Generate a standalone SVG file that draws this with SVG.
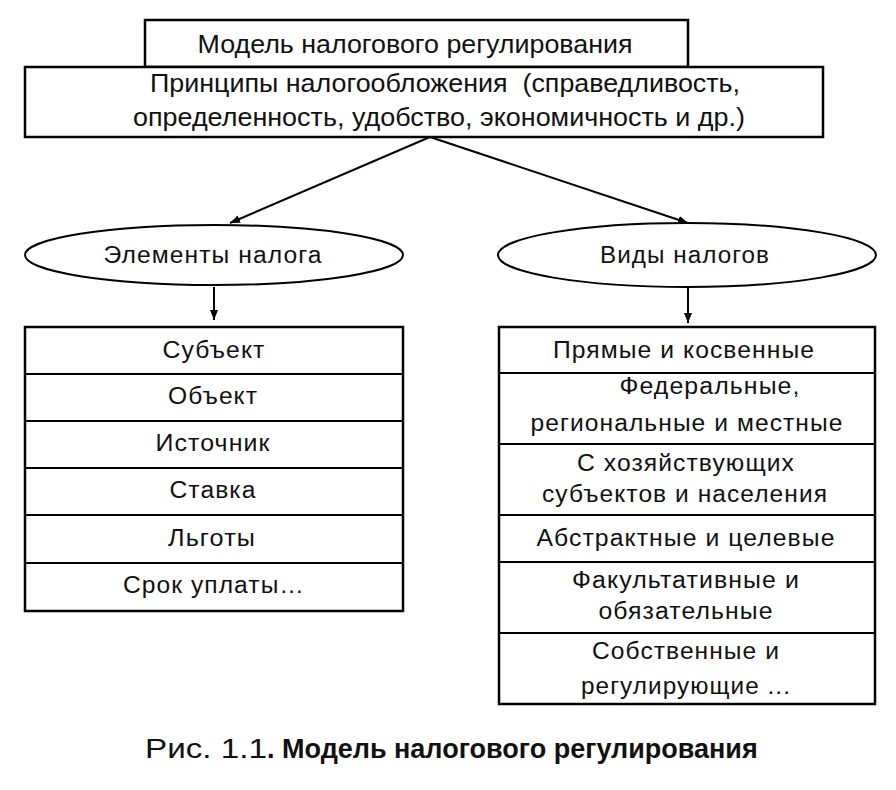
<svg xmlns="http://www.w3.org/2000/svg" width="896" height="790" viewBox="0 0 896 790">
<defs>
<style>
.box{fill:#fff;stroke:#000;stroke-width:2.5}
.ln{stroke:#000;stroke-width:2;fill:none}
.n{font-family:"Liberation Sans",Arial,sans-serif;font-size:25px;fill:#111;text-anchor:middle}
.t{font-family:"Liberation Sans",Arial,sans-serif;font-size:23px;fill:#111;text-anchor:middle;letter-spacing:1px}
.cap{font-family:"Liberation Sans",Arial,sans-serif;font-size:27px;fill:#111}
</style>
<marker id="ah2" viewBox="0 0 10 10" refX="10" refY="5" markerWidth="10" markerHeight="10" orient="auto" markerUnits="userSpaceOnUse">
<path d="M0,1 L10,5 L0,9 Z" fill="#000"/>
</marker>
</defs>
<rect width="896" height="790" fill="#fff"/>

<g id="model">
<rect class="box" x="145" y="20" width="543" height="47"/>
<text class="n" x="415" y="53" textLength="435" lengthAdjust="spacingAndGlyphs">Модель налогового регулирования</text>
</g>
<g id="principles">
<rect class="box" x="25" y="67" width="798" height="70"/>
<text class="n" x="445" y="92" textLength="590" lengthAdjust="spacingAndGlyphs" xml:space="preserve">Принципы налогообложения  (справедливость,</text>
<text class="n" x="439" y="126" textLength="612" lengthAdjust="spacingAndGlyphs">определенность, удобство, экономичность и др.)</text>
</g>

<g id="connectors">
<line class="ln" x1="430" y1="137" x2="230" y2="223" marker-end="url(#ah2)"/>
<line class="ln" x1="430" y1="137" x2="688" y2="223" marker-end="url(#ah2)"/>
<line class="ln" x1="214" y1="287" x2="214" y2="320" marker-end="url(#ah2)"/>
<line class="ln" x1="688" y1="288" x2="688" y2="323" marker-end="url(#ah2)"/>
</g>

<g id="elements">
<ellipse class="box" cx="214" cy="255" rx="189" ry="30" style="stroke-width:2"/>
<text class="t" x="213" y="263" textLength="219" lengthAdjust="spacingAndGlyphs">Элементы налога</text>
</g>
<g id="types">
<ellipse class="box" cx="687" cy="255" rx="189" ry="32" style="stroke-width:2"/>
<text class="t" x="685" y="263" textLength="170" lengthAdjust="spacingAndGlyphs">Виды налогов</text>
</g>

<g id="elements-list">
<rect class="box" x="25" y="327" width="378" height="284"/>
<line class="ln" x1="25" y1="374" x2="403" y2="374"/>
<line class="ln" x1="25" y1="421" x2="403" y2="421"/>
<line class="ln" x1="25" y1="468" x2="403" y2="468"/>
<line class="ln" x1="25" y1="515" x2="403" y2="515"/>
<line class="ln" x1="25" y1="563" x2="403" y2="563"/>
<text class="t" x="214" y="358" textLength="103" lengthAdjust="spacingAndGlyphs">Субъект</text>
<text class="t" x="213" y="404" textLength="90" lengthAdjust="spacingAndGlyphs">Объект</text>
<text class="t" x="213" y="451" textLength="115" lengthAdjust="spacingAndGlyphs">Источник</text>
<text class="t" x="213" y="498" textLength="87" lengthAdjust="spacingAndGlyphs">Ставка</text>
<text class="t" x="212" y="546" textLength="88" lengthAdjust="spacingAndGlyphs">Льготы</text>
<text class="t" x="214" y="593" textLength="182" lengthAdjust="spacingAndGlyphs">Срок уплаты…</text>
</g>

<g id="types-list">
<rect class="box" x="499" y="327" width="376" height="377"/>
<line class="ln" x1="499" y1="373" x2="875" y2="373"/>
<line class="ln" x1="499" y1="444" x2="875" y2="444"/>
<line class="ln" x1="499" y1="515" x2="875" y2="515"/>
<line class="ln" x1="499" y1="562" x2="875" y2="562"/>
<line class="ln" x1="499" y1="633" x2="875" y2="633"/>
<text class="t" x="684" y="358" textLength="262" lengthAdjust="spacingAndGlyphs">Прямые и косвенные</text>
<text class="t" x="710" y="394" textLength="181" lengthAdjust="spacingAndGlyphs">Федеральные,</text>
<text class="t" x="687" y="431" textLength="313" lengthAdjust="spacingAndGlyphs">региональные и местные</text>
<text class="t" x="686" y="471" textLength="218" lengthAdjust="spacingAndGlyphs">С хозяйствующих</text>
<text class="t" x="685" y="502" textLength="286" lengthAdjust="spacingAndGlyphs">субъектов и населения</text>
<text class="t" x="686" y="546" textLength="299" lengthAdjust="spacingAndGlyphs">Абстрактные и целевые</text>
<text class="t" x="686" y="588" textLength="228" lengthAdjust="spacingAndGlyphs">Факультативные и</text>
<text class="t" x="686" y="619" textLength="175" lengthAdjust="spacingAndGlyphs">обязательные</text>
<text class="t" x="686" y="659" textLength="188" lengthAdjust="spacingAndGlyphs">Собственные и</text>
<text class="t" x="686" y="694" textLength="210" lengthAdjust="spacingAndGlyphs">регулирующие ...</text>
</g>

<g id="caption">
<text class="cap" x="145" y="758"><tspan style="font-weight:300" textLength="122" lengthAdjust="spacingAndGlyphs">Рис. 1.1</tspan><tspan font-weight="bold">. Модель налогового регулирования</tspan></text>
</g>
</svg>
